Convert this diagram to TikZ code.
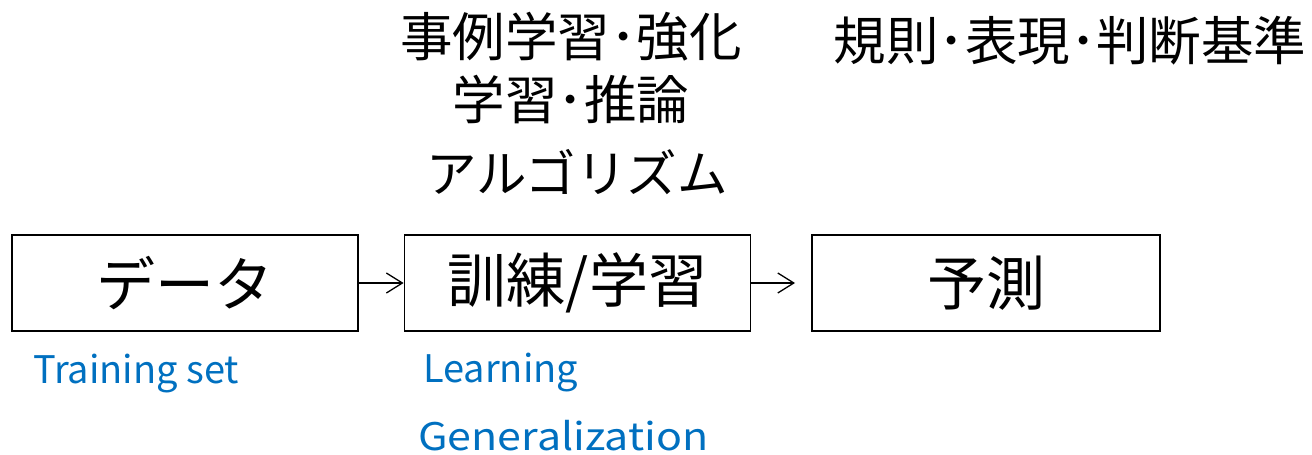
\documentclass[tikz,border=0pt]{standalone}
\usepackage{fontspec}
\setmainfont{Noto Sans CJK JP}
\usetikzlibrary{arrows.meta}
\definecolor{lblblue}{HTML}{0070C0}
\begin{document}
\begin{tikzpicture}[x=1pt,y=-1pt,
  stagebox/.style={draw=black,line width=1.8pt,minimum width=346pt,minimum height=96pt,inner sep=0pt,font=\fontsize{59}{60}\selectfont},
  toptext/.style={inner sep=0pt,font=\fontsize{52.5}{54}\selectfont},
  bluetext/.style={inner sep=0pt,anchor=west,text=lblblue,font=\fontsize{38}{40}\selectfont},
  flow/.style={line width=1.3pt,-{Straight Barb[length=16pt,width=20pt,line width=1.3pt]}}]
\useasboundingbox (0,0) rectangle (1312,455);
\node[stagebox] (data) at (185,283) {データ};
\node[stagebox] (train) at (577.5,283) {訓練/学習};
\node[stagebox,minimum width=348pt] (pred) at (986,283) {予測};
\coordinate (arrend) at (795,283);
\draw[flow] (data.east) -- (train.west);
\draw[flow] (train.east) -- (arrend);
\node[toptext] (t1) at (571,37) {事例学習･強化};
\node[toptext] (t2) at (571,99) {学習･推論};
\node[toptext,font=\fontsize{50.5}{52}\selectfont] (t3) at (577,172) {アルゴリズム};
\node[toptext] (t4) at (1070,41) {規則･表現･判断基準};
\node[bluetext] (b1) at (33,374) {Training set};
\node[bluetext] (b2) at (423,373) {Learning};
\node[bluetext,xscale=1.13] (b3) at (418,436) {Generalization};
\end{tikzpicture}
\end{document}
